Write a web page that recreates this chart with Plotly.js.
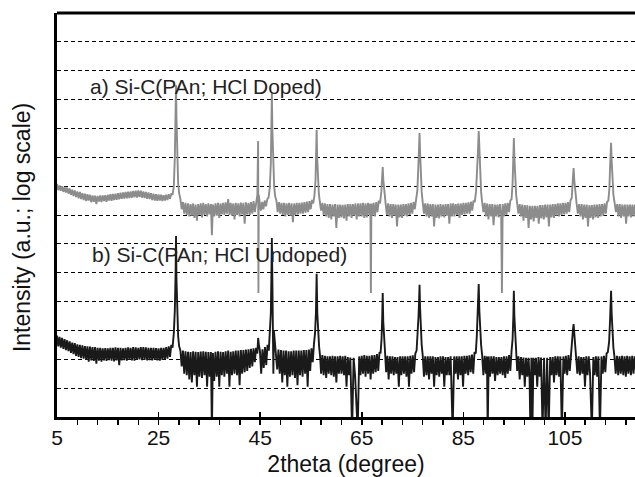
<!DOCTYPE html>
<html>
<head>
<meta charset="utf-8">
<script src="https://cdn.plot.ly/plotly-3.0.1.min.js"></script>
<style>html,body{margin:0;padding:0;background:#fff}#chart{width:635px;height:477px}</style>
</head>
<body>
<div id="chart"></div>
<script>
// [2theta (deg), log10 intensity (a.u.)]
const dopedPattern = [
[5.00,8.08],[5.25,7.86],[5.50,8.02],[5.75,7.84],[6.00,8.00],[6.25,7.80],[6.50,7.97],[6.75,7.78],[7.00,7.95],[7.25,7.74],
[7.50,7.92],[7.75,7.70],[8.00,7.88],[8.25,7.66],[8.50,7.85],[8.75,7.62],[9.00,7.82],[9.25,7.58],[9.50,7.80],[9.75,7.55],
[10.00,7.76],[10.25,7.52],[10.50,7.74],[10.75,7.48],[11.00,7.72],[11.25,7.50],[11.50,7.70],[11.75,7.44],[12.00,7.68],[12.25,7.46],
[12.50,7.67],[12.75,7.38],[13.00,7.66],[13.25,7.47],[13.50,7.68],[13.75,7.45],[14.00,7.68],[14.25,7.48],[14.50,7.69],[14.75,7.46],
[15.00,7.70],[15.25,7.50],[15.50,7.72],[15.75,7.49],[16.00,7.73],[16.25,7.52],[16.50,7.74],[16.75,7.53],[17.00,7.76],[17.25,7.54],
[17.50,7.77],[17.75,7.56],[18.00,7.78],[18.25,7.57],[18.50,7.80],[18.75,7.58],[19.00,7.81],[19.25,7.59],[19.50,7.82],[19.75,7.60],
[20.00,7.83],[20.25,7.61],[20.50,7.84],[20.75,7.60],[21.00,7.85],[21.25,7.62],[21.50,7.84],[21.75,7.60],[22.00,7.82],[22.25,7.59],
[22.50,7.80],[22.75,7.56],[23.00,7.78],[23.25,7.55],[23.50,7.76],[23.75,7.52],[24.00,7.74],[24.25,7.50],[24.50,7.72],[24.75,7.49],
[25.00,7.71],[25.25,7.50],[25.50,7.70],[25.75,7.48],[26.00,7.69],[26.25,7.50],[26.50,7.70],[26.75,7.52],[27.00,7.72],[27.25,7.56],
[27.50,7.75],[27.75,7.70],[28.00,8.00],[28.20,9.0],[28.35,10.6],[28.44,11.5],[28.52,10.4],[28.65,8.9],[28.85,8.1],[29.05,7.75],
[29.3,7.55],[29.55,7.20],[29.8,7.45],[30.05,7.05],[30.3,7.42],[30.55,7.00],[30.8,7.40],[31.05,6.95],[31.3,7.38],[31.55,6.98],
[31.8,7.40],[32.05,6.90],[32.3,7.36],[32.55,6.80],[32.8,7.38],[33.05,7.00],[33.3,7.40],[33.55,6.92],[33.8,7.42],[34.05,7.00],
[34.3,7.38],[34.55,6.95],[34.8,7.40],[35.05,7.02],[35.3,7.38],[35.5,6.30],[35.7,7.36],[35.95,6.95],[36.2,7.40],[36.45,6.98],
[36.7,7.42],[36.95,6.90],[37.2,7.40],[37.45,7.02],[37.7,7.42],[37.95,7.00],[38.2,7.44],[38.45,7.05],[38.7,7.55],[38.95,7.00],
[39.2,7.42],[39.45,6.98],[39.7,7.40],[39.95,6.85],[40.2,7.42],[40.45,7.00],[40.7,7.40],[40.95,6.95],[41.2,7.43],[41.45,7.02],
[41.7,7.42],[41.95,6.70],[42.2,7.44],[42.45,7.02],[42.7,7.42],[42.95,7.00],[43.2,7.45],[43.45,7.05],[43.7,7.48],[43.95,7.10],
[44.2,7.52],[44.45,7.70],[44.6,9.56],[44.66,4.30],[44.72,7.70],[44.9,7.45],[45.15,7.15],[45.4,7.45],[45.65,7.20],[45.9,7.50],
[46.15,7.30],[46.4,7.55],[46.65,7.60],[46.9,7.95],[47.1,8.8],[47.22,10.2],[47.3,11.23],[47.4,10.0],[47.55,8.7],[47.75,8.0],
[47.95,7.65],[48.2,7.50],[48.45,7.10],[48.7,7.45],[48.95,7.05],[49.2,7.42],[49.45,7.00],[49.7,7.42],[49.95,6.95],[50.2,7.40],
[50.45,7.00],[50.7,7.42],[50.95,6.98],[51.2,7.40],[51.45,6.75],[51.7,7.40],[51.95,7.00],[52.2,7.42],[52.45,7.02],[52.7,7.42],
[52.95,7.05],[53.2,7.43],[53.45,7.05],[53.7,7.45],[53.95,7.08],[54.2,7.46],[54.45,7.10],[54.7,7.48],[54.95,7.20],[55.2,7.52],
[55.45,7.40],[55.7,7.70],[55.9,8.2],[56.02,9.0],[56.12,9.95],[56.22,9.0],[56.35,8.2],[56.55,7.75],[56.75,7.45],[57.0,7.15],
[57.25,7.42],[57.5,7.00],[57.75,7.40],[58.0,6.95],[58.25,7.38],[58.5,6.90],[58.75,7.38],[59.0,6.85],[59.25,7.36],[59.5,6.95],
[59.75,7.38],[60.0,6.55],[60.25,7.36],[60.5,6.90],[60.75,7.36],[61.0,6.92],[61.25,7.35],[61.5,6.88],[61.75,7.36],[62.0,6.80],
[62.25,7.38],[62.5,6.95],[62.75,7.38],[63.0,6.90],[63.25,7.38],[63.5,6.98],[63.75,7.40],[64.0,6.85],[64.25,7.40],[64.5,6.95],
[64.75,7.40],[65.0,6.95],[65.25,7.42],[65.5,6.90],[65.75,7.40],[66.0,6.92],[66.25,7.42],[66.5,7.00],[66.7,7.40],[66.8,4.30],
[66.9,7.40],[67.1,6.98],[67.35,7.42],[67.6,6.95],[67.85,7.45],[68.1,7.10],[68.35,7.50],[68.6,7.40],[68.85,7.80],[69.0,8.2],
[69.13,8.66],[69.25,8.2],[69.45,7.75],[69.7,7.40],[69.95,7.00],[70.2,7.40],[70.45,6.95],[70.7,7.38],[70.95,6.90],[71.2,7.38],
[71.45,6.98],[71.7,7.36],[71.95,6.60],[72.2,7.36],[72.45,6.92],[72.7,7.36],[72.95,6.90],[73.2,7.38],[73.45,6.98],[73.7,7.38],
[73.95,6.95],[74.2,7.40],[74.45,7.00],[74.7,7.42],[74.95,7.05],[75.2,7.45],[75.45,7.20],[75.7,7.55],[75.95,7.85],[76.15,8.7],
[76.28,9.4],[76.38,9.84],[76.48,9.2],[76.62,8.3],[76.8,7.8],[77.0,7.45],[77.25,7.05],[77.5,7.40],[77.75,6.95],[78.0,7.40],
[78.25,6.90],[78.5,7.38],[78.75,6.95],[79.0,7.38],[79.25,6.60],[79.5,7.36],[79.75,6.90],[80.0,7.36],[80.25,6.88],[80.5,7.38],
[80.75,6.95],[81.0,7.36],[81.25,6.92],[81.5,7.38],[81.75,6.98],[82.0,7.38],[82.25,6.70],[82.5,7.40],[82.75,6.95],[83.0,7.40],
[83.25,6.95],[83.5,7.38],[83.75,7.00],[84.0,7.40],[84.25,6.90],[84.5,7.40],[84.75,7.00],[85.0,7.42],[85.25,7.02],[85.5,7.42],
[85.75,7.05],[86.0,7.44],[86.25,7.05],[86.5,7.46],[86.75,7.15],[87.0,7.50],[87.25,7.45],[87.5,7.80],[87.7,8.4],[87.88,9.2],
[88.03,9.91],[88.15,9.2],[88.3,8.4],[88.5,7.8],[88.7,7.45],[88.95,7.10],[89.2,7.42],[89.45,6.95],[89.7,7.40],[89.95,6.85],
[90.2,7.38],[90.45,6.95],[90.7,7.38],[90.95,6.65],[91.2,7.36],[91.45,6.95],[91.7,7.36],[91.95,6.92],[92.2,7.38],[92.45,6.98],
[92.6,4.30],[92.75,7.38],[93.0,6.95],[93.25,7.40],[93.5,7.00],[93.75,7.42],[94.0,7.10],[94.25,7.50],[94.5,7.55],[94.7,8.1],
[94.85,9.0],[94.95,9.67],[95.05,9.0],[95.2,8.2],[95.4,7.7],[95.6,7.40],[95.85,7.05],[96.1,7.38],[96.35,6.95],[96.6,7.36],
[96.85,6.80],[97.1,7.34],[97.35,6.90],[97.6,7.34],[97.85,6.55],[98.1,7.32],[98.35,6.85],[98.6,7.32],[98.85,6.78],[99.1,7.32],
[99.35,6.90],[99.6,7.32],[99.85,6.70],[100.1,7.34],[100.35,6.88],[100.6,7.34],[100.85,6.85],[101.1,7.36],[101.35,6.92],[101.6,7.36],
[101.85,6.60],[102.1,7.36],[102.35,6.92],[102.6,7.38],[102.85,6.90],[103.1,7.38],[103.35,6.98],[103.6,7.40],[103.85,6.95],[104.1,7.40],
[104.35,7.00],[104.6,7.42],[104.85,7.02],[105.1,7.42],[105.35,7.05],[105.6,7.45],[105.85,7.10],[106.1,7.50],[106.35,7.60],[106.55,8.2],
[106.71,8.63],[106.85,8.2],[107.05,7.7],[107.3,7.40],[107.55,7.05],[107.8,7.38],[108.05,6.95],[108.3,7.38],[108.55,6.85],[108.8,7.36],
[109.05,6.90],[109.3,7.36],[109.55,6.60],[109.8,7.34],[110.05,6.90],[110.3,7.34],[110.55,6.85],[110.8,7.36],[111.05,6.92],[111.3,7.36],
[111.55,6.90],[111.8,7.38],[112.05,6.95],[112.3,7.38],[112.55,6.98],[112.8,7.40],[113.05,7.05],[113.3,7.45],[113.55,7.50],[113.75,7.9],
[113.92,8.8],[114.09,9.50],[114.2,8.9],[114.35,8.2],[114.55,7.7],[114.8,7.40],[115.05,7.10],[115.3,7.38],[115.55,6.95],[115.8,7.38],
[116.05,6.90],[116.3,7.36],[116.55,6.95],[116.8,7.36],[117.05,6.70],[117.3,7.36],[117.55,6.95],[117.8,7.36],[118.05,6.92],[118.3,7.36],
[118.55,6.95],[118.8,7.36],[119.0,7.0]
];

const undopedPattern = [
[5.00,2.82],[5.25,2.45],[5.50,2.78],[5.75,2.40],[6.00,2.74],[6.25,2.36],[6.50,2.70],[6.75,2.32],[7.00,2.66],[7.25,2.28],
[7.50,2.62],[7.75,2.22],[8.00,2.58],[8.25,2.18],[8.50,2.56],[8.75,2.12],[9.00,2.52],[9.25,2.08],[9.50,2.50],[9.75,2.04],
[10.00,2.48],[10.25,2.02],[10.50,2.46],[10.75,1.98],[11.00,2.45],[11.25,1.92],[11.50,2.44],[11.75,1.96],[12.00,2.42],[12.25,1.94],
[12.50,2.42],[12.75,1.85],[13.00,2.40],[13.25,1.95],[13.50,2.40],[13.75,1.92],[14.00,2.38],[14.25,1.96],[14.50,2.39],[14.75,1.94],
[15.00,2.38],[15.25,1.97],[15.50,2.40],[15.75,1.95],[16.00,2.40],[16.25,1.93],[16.50,2.41],[16.75,1.96],[17.00,2.40],[17.25,1.80],
[17.50,2.40],[17.75,1.96],[18.00,2.38],[18.25,1.97],[18.50,2.40],[18.75,1.95],[19.00,2.41],[19.25,1.98],[19.50,2.40],[19.75,1.96],
[20.00,2.42],[20.25,1.95],[20.50,2.41],[20.75,1.98],[21.00,2.40],[21.25,2.00],[21.50,2.42],[21.75,1.97],[22.00,2.42],[22.25,1.98],
[22.50,2.41],[22.75,1.96],[23.00,2.40],[23.25,1.97],[23.50,2.40],[23.75,1.96],[24.00,2.40],[24.25,1.98],[24.50,2.39],[24.75,1.96],
[25.00,2.38],[25.25,1.95],[25.50,2.40],[25.75,1.98],[26.00,2.40],[26.25,2.00],[26.50,2.42],[26.75,2.02],[27.00,2.45],[27.25,2.08],
[27.50,2.50],[27.75,2.40],[28.00,2.90],[28.20,3.7],[28.35,5.0],[28.44,6.27],[28.52,4.8],[28.65,3.5],[28.85,2.8],[29.05,2.45],
[29.3,2.30],[29.55,1.75],[29.8,2.30],[30.05,1.50],[30.3,2.28],[30.55,1.45],[30.8,2.26],[31.05,1.30],[31.3,2.25],[31.55,1.20],
[31.8,2.28],[32.05,1.45],[32.3,2.26],[32.55,1.05],[32.8,2.25],[33.05,1.40],[33.3,2.27],[33.55,1.35],[33.8,2.28],[34.05,1.45],
[34.3,2.26],[34.55,1.05],[34.8,2.25],[35.05,1.40],[35.3,2.25],[35.5,-0.5],[35.7,2.22],[35.95,1.25],[36.2,2.26],[36.45,1.40],
[36.7,2.28],[36.95,1.05],[37.2,2.26],[37.45,1.45],[37.7,2.25],[37.95,1.40],[38.2,2.28],[38.45,1.50],[38.7,2.30],[38.95,1.05],
[39.2,2.26],[39.45,1.45],[39.7,2.28],[39.95,1.50],[40.2,2.30],[40.45,1.45],[40.7,2.30],[40.95,1.10],[41.2,2.32],[41.45,1.50],
[41.7,2.32],[41.95,1.55],[42.2,2.34],[42.45,1.60],[42.7,2.35],[42.95,1.70],[43.2,2.36],[43.45,1.75],[43.7,2.38],[43.95,1.90],
[44.2,2.40],[44.45,2.20],[44.6,2.74],[44.75,2.50],[44.95,2.30],[45.2,1.50],[45.45,2.35],[45.7,1.70],[45.95,2.42],[46.2,1.80],
[46.45,2.50],[46.7,2.30],[46.9,2.8],[47.1,3.6],[47.22,5.0],[47.3,6.20],[47.4,4.8],[47.5,3.4],[47.6,1.50],[47.7,3.0],
[47.9,2.6],[48.1,2.40],[48.35,1.65],[48.6,2.34],[48.85,1.50],[49.1,2.32],[49.35,1.20],[49.6,2.30],[49.85,1.45],[50.1,2.30],
[50.35,1.05],[50.6,2.28],[50.85,1.40],[51.1,2.28],[51.35,1.45],[51.6,2.30],[51.85,1.35],[52.1,2.30],[52.35,1.10],[52.6,2.30],
[52.85,1.45],[53.1,2.30],[53.35,1.40],[53.6,2.32],[53.85,1.50],[54.1,2.32],[54.35,1.05],[54.6,2.34],[54.85,1.60],[55.1,2.38],
[55.35,1.90],[55.6,2.55],[55.8,2.9],[55.98,3.6],[56.12,4.96],[56.25,3.6],[56.4,3.0],[56.6,2.45],[56.8,2.10],[57.0,1.50],
[57.25,2.15],[57.5,1.45],[57.75,2.12],[58.0,1.35],[58.25,2.10],[58.5,1.50],[58.75,2.10],[59.0,1.45],[59.25,2.12],[59.5,1.40],
[59.75,2.10],[60.0,1.20],[60.25,2.10],[60.5,1.50],[60.75,2.12],[61.0,1.50],[61.25,2.10],[61.5,1.45],[61.75,2.12],[62.0,1.05],
[62.25,2.08],[62.5,1.45],[62.75,2.06],[63.1,-0.5],[63.4,2.05],[63.7,1.40],[64.2,-0.5],[64.5,2.10],[64.75,1.45],[65.0,2.12],
[65.25,1.50],[65.5,2.15],[65.75,1.40],[66.0,2.12],[66.25,1.50],[66.5,2.12],[66.75,1.30],[67.0,2.14],[67.25,1.50],[67.5,2.15],
[67.75,1.55],[68.0,2.18],[68.25,1.60],[68.5,2.25],[68.7,2.20],[68.9,2.7],[69.02,3.4],[69.13,4.30],[69.24,3.3],[69.4,2.6],
[69.6,2.20],[69.8,1.55],[70.05,2.12],[70.3,1.30],[70.55,2.10],[70.8,1.50],[71.05,2.10],[71.3,1.45],[71.55,2.08],[71.8,1.50],
[72.05,2.08],[72.3,1.05],[72.55,2.10],[72.8,1.45],[73.05,2.10],[73.3,1.50],[73.55,2.10],[73.8,1.40],[74.05,2.10],[74.3,1.05],
[74.55,2.12],[74.8,1.50],[75.05,2.14],[75.3,1.55],[75.55,2.20],[75.8,2.30],[76.0,2.8],[76.18,3.5],[76.28,4.0],[76.38,4.58],
[76.48,3.8],[76.62,3.0],[76.8,2.5],[77.0,2.15],[77.25,1.40],[77.5,2.10],[77.75,1.45],[78.0,2.10],[78.25,1.30],[78.5,2.10],
[78.75,1.50],[79.0,2.10],[79.25,1.05],[79.5,2.08],[79.75,1.45],[80.0,2.08],[80.25,1.40],[80.5,2.10],[80.75,1.50],[81.0,2.10],
[81.25,1.05],[81.5,2.08],[81.75,1.45],[82.0,2.08],[82.25,1.45],[82.5,2.10],[82.9,-0.5],[83.2,2.10],[83.45,1.50],[83.7,2.10],
[83.95,1.30],[84.2,2.10],[84.45,1.45],[84.7,2.10],[84.95,1.05],[85.2,2.12],[85.45,1.50],[85.7,2.12],[85.95,1.45],[86.2,2.14],
[86.45,1.55],[86.7,2.16],[86.95,1.50],[87.2,2.25],[87.45,2.20],[87.65,2.8],[87.85,3.6],[88.03,4.61],[88.15,3.7],[88.3,3.0],
[88.5,2.5],[88.7,2.15],[88.95,1.45],[89.2,2.12],[89.45,1.50],[89.65,2.10],[89.8,-0.5],[90.0,2.10],[90.25,1.40],[90.5,2.10],
[90.75,1.50],[91.0,2.10],[91.25,1.25],[91.5,2.08],[91.75,1.45],[92.0,2.08],[92.25,1.50],[92.5,2.08],[92.75,1.45],[93.0,2.10],
[93.25,1.35],[93.5,2.10],[93.75,1.50],[94.0,2.15],[94.25,1.60],[94.5,2.30],[94.7,2.7],[94.85,3.5],[94.95,4.37],[95.05,3.5],
[95.2,2.8],[95.4,2.3],[95.6,1.60],[95.85,2.10],[96.1,1.30],[96.35,2.08],[96.6,1.45],[96.85,2.06],[97.1,1.05],[97.35,2.05],
[97.6,1.40],[97.85,2.05],[98.05,1.30],[98.2,-0.5],[98.4,2.05],[98.6,-0.5],[98.8,2.05],[99.05,1.45],[99.3,2.05],[99.55,1.05],
[99.8,2.08],[100.05,1.40],[100.3,2.06],[100.6,-0.5],[100.9,2.05],[101.2,-0.5],[101.5,2.05],[101.8,-0.5],[102.1,2.08],[102.35,1.45],
[102.6,2.08],[102.85,1.20],[103.1,2.10],[103.35,1.45],[103.6,2.10],[103.85,1.40],[104.1,2.10],[104.4,-0.5],[104.7,2.10],[104.95,1.50],
[105.2,2.12],[105.45,1.45],[105.7,2.15],[105.95,1.60],[106.2,2.30],[106.4,2.6],[106.58,3.0],[106.71,3.22],[106.85,2.9],[107.0,2.5],
[107.2,2.15],[107.45,1.50],[107.7,2.10],[107.95,1.45],[108.2,2.08],[108.45,1.50],[108.7,2.08],[108.95,1.05],[109.2,2.10],[109.45,1.45],
[109.7,2.10],[109.95,1.50],[110.3,-0.5],[110.6,2.08],[110.85,1.45],[111.1,2.10],[111.35,1.40],[111.6,2.10],[111.9,-0.5],[112.2,2.10],
[112.45,1.50],[112.7,2.12],[112.95,1.55],[113.2,2.20],[113.45,2.25],[113.7,2.6],[113.9,3.4],[114.09,4.37],[114.2,3.6],[114.35,2.9],
[114.55,2.4],[114.75,2.10],[115.0,1.50],[115.25,2.12],[115.5,1.45],[115.75,2.10],[116.0,1.50],[116.25,2.12],[116.5,1.45],[116.75,2.10],
[117.0,1.40],[117.25,2.12],[117.5,1.50],[117.75,2.10],[118.0,1.45],[118.25,2.12],[118.5,1.50],[118.75,2.10],[119.0,1.60]
];

const xTickVals = [5, 25, 45, 65, 85, 105];
const xTickText = ['5', '25', '45', '65', '85', '105'];
const labelA = 'a) Si-C(PAn; HCl Doped)';
const labelB = 'b) Si-C(PAn; HCl Undoped)';

const FONT = 'Liberation Sans, Arial, sans-serif';

const traces = [
  {
    x: dopedPattern.map(p => p[0]),
    y: dopedPattern.map(p => Math.pow(10, p[1])),
    type: 'scatter', mode: 'lines',
    line: {color: '#8c8c8c', width: 1.9},
    hoverinfo: 'skip'
  },
  {
    x: undopedPattern.map(p => p[0]),
    y: undopedPattern.map(p => Math.pow(10, p[1])),
    type: 'scatter', mode: 'lines',
    line: {color: '#1a1a1a', width: 1.9},
    hoverinfo: 'skip'
  }
];

const layout = {
  width: 635, height: 477,
  margin: {l: 57, r: 0, t: 13, b: 60},
  paper_bgcolor: '#ffffff', plot_bgcolor: '#ffffff',
  showlegend: false,
  font: {family: FONT, color: '#111111'},
  xaxis: {
    range: [5, 118.8],
    tickmode: 'array', tickvals: xTickVals, ticktext: xTickText,
    ticks: 'inside', ticklen: 5, tickwidth: 1.5, tickcolor: '#000',
    minor: {tick0: 5, dtick: 4, ticks: 'outside', ticklen: 5, tickwidth: 1.5, tickcolor: '#000', showgrid: false},
    tickfont: {family: FONT, size: 21, color: '#111'},
    showline: true, linecolor: '#000', linewidth: 2.5,
    showgrid: false, zeroline: false,
    title: {text: '2theta (degree)', font: {family: FONT, size: 23, color: '#111'}, standoff: 11}
  },
  yaxis: {
    type: 'log',
    range: [0, 14],
    dtick: 1,
    showticklabels: false, ticks: '',
    showgrid: true, gridcolor: '#000', gridwidth: 1, griddash: '4px,3px',
    showline: true, linecolor: '#000', linewidth: 3,
    zeroline: false
  },
  shapes: [
    {type: 'line', xref: 'paper', yref: 'paper', x0: 0, x1: 1, y0: 1, y1: 1, line: {color: '#000', width: 3}}
  ],
  annotations: [
    {text: labelA, xref: 'paper', yref: 'paper', x: 0.0536, y: 0.817, xanchor: 'left', yanchor: 'middle',
     showarrow: false, font: {family: FONT, size: 21, color: '#222'}},
    {text: labelB, xref: 'paper', yref: 'paper', x: 0.057, y: 0.403, xanchor: 'left', yanchor: 'middle',
     showarrow: false, font: {family: FONT, size: 21, color: '#222'}},
    {text: 'Intensity (a.u.; log scale)', xref: 'paper', yref: 'paper', x: -0.0606, y: 0.47,
     xanchor: 'center', yanchor: 'middle', textangle: -90, showarrow: false,
     font: {family: FONT, size: 23, color: '#111'}}
  ]
};

Plotly.newPlot('chart', traces, layout, {displayModeBar: false, staticPlot: true});
</script>
</body>
</html>
